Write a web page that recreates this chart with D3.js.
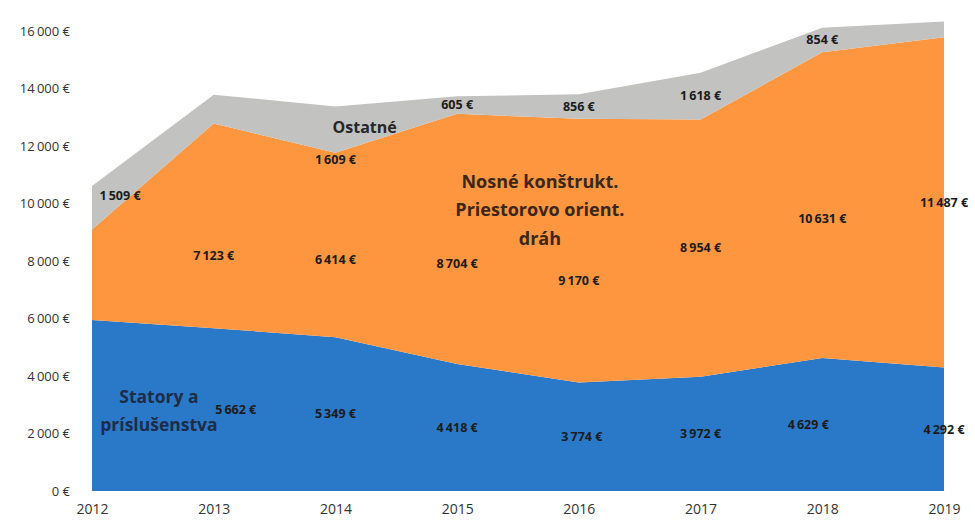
<html>
<head>
<meta charset="utf-8">
<title>stacked area</title>
<style>
  body { margin: 0; background: #fff; }
  .axis text { font-family: "Open Sans", sans-serif; fill: #333; }
  .lbl { font-family: "Open Sans", sans-serif; font-weight: 700; font-size: 12.5px; fill: #1c1c1c; }
  .name { font-family: "Open Sans", sans-serif; font-weight: 700; }
</style>
</head>
<body>
<script src="https://cdn.jsdelivr.net/npm/d3@7"></script>
<script>
var years = [2012, 2013, 2014, 2015, 2016, 2017, 2018, 2019];
var statory = [5950, 5662, 5349, 4418, 3774, 3972, 4629, 4292];
var nosne = [3150, 7123, 6414, 8704, 9170, 8954, 10631, 11487];
var ostatne = [1509, 1000, 1609, 605, 856, 1618, 854, 550];
// which values carry a label in the picture
var statoryShown = [false, true, true, true, true, true, true, true];
var nosneShown = [false, true, true, true, true, true, true, true];
var ostatneShown = [true, false, true, true, true, true, true, false];
var yTicks = [0, 2000, 4000, 6000, 8000, 10000, 12000, 14000, 16000];

var width = 975, height = 522;
var svg = d3.select('body').append('svg')
  .attr('width', width).attr('height', height);

var x = d3.scaleLinear().domain([2012, 2019]).range([92, 944]);
var y = d3.scaleLinear().domain([0, 16000]).range([491, 31]);

var euro = function(v) { return d3.format(',')(v).replace(/,/g, '\u2009') + '\u00a0€'; };

var table = years.map(function(yr, i) {
  return { year: yr, statory: statory[i], nosne: nosne[i], ostatne: ostatne[i] };
});
var keys = ['statory', 'nosne', 'ostatne'];
var shown = { statory: statoryShown, nosne: nosneShown, ostatne: ostatneShown };
var color = d3.scaleOrdinal().domain(keys).range(['#2a79c8', '#fd963f', '#c2c2c0']);

var series = d3.stack().keys(keys)(table);

var area = d3.area()
  .x(function(d) { return x(d.data.year); })
  .y0(function(d) { return y(d[0]); })
  .y1(function(d) { return y(d[1]); });

svg.selectAll('path.band')
  .data(series)
  .enter()
  .append('path')
  .attr('class', 'band')
  .attr('d', area)
  .attr('fill', function(d) { return color(d.key); });

// axes
var yAxis = d3.axisLeft(y).tickValues(yTicks).tickSize(0).tickPadding(0)
  .tickFormat(euro);
var gy = svg.append('g').attr('class', 'axis')
  .attr('transform', 'translate(70,0)')
  .call(yAxis);
gy.select('.domain').remove();
gy.selectAll('text').attr('font-size', 13);

var xAxis = d3.axisBottom(x).tickValues(years).tickSize(0).tickPadding(13)
  .tickFormat(d3.format('d'));
var gx = svg.append('g').attr('class', 'axis')
  .attr('transform', 'translate(0,491)')
  .call(xAxis);
gx.select('.domain').remove();
gx.selectAll('text').attr('font-size', 14);

// value labels, in the middle of each band
var nudge = { 'ostatne-2014': 30, 'nosne-2013': 30, 'nosne-2015': 25, 'nosne-2016': 30, 'nosne-2014': 15, 'nosne-2018': 14, 'ostatne-2012': -12 };
var shift = { 'statory-2013': 22, 'statory-2018': -14, 'statory-2016': 3 };
series.forEach(function(s) {
  svg.append('g').selectAll('text')
    .data(s.filter(function(d, i) { return shown[s.key][i]; }))
    .enter()
    .append('text')
    .attr('class', 'lbl')
    .attr('text-anchor', 'middle')
    .attr('dy', '0.35em')
    .attr('x', function(d) {
      var k = s.key + '-' + d.data.year;
      return Math.min(x(d.data.year) + (d.data.year === 2012 ? 28 : 0) + (shift[k] || 0), 950);
    })
    .attr('y', function(d) { return y((d[0] + d[1]) / 2) + (nudge[s.key + '-' + d.data.year] || 0); })
    .text(function(d) { return euro(d[1] - d[0]); });
});

// series names
function name(xv, yv, lines, size, fill) {
  var t = svg.append('text').attr('class', 'name')
    .attr('text-anchor', 'middle')
    .attr('font-size', size)
    .attr('fill', fill);
  lines.forEach(function(l, i) {
    t.append('tspan').attr('x', x(xv)).attr('y', y(yv) + i * size * 1.6).text(l);
  });
}
name(2012.55, 3050, ['Statory a', 'príslušenstva'], 17.5, '#1d2c48');
name(2014.24, 12450, ['Ostatné'], 16, '#262626');
name(2015.68, 10550, ['Nosné konštrukt.', 'Priestorovo orient.', 'dráh'], 18, '#3a2718');
</script>
</body>
</html>
